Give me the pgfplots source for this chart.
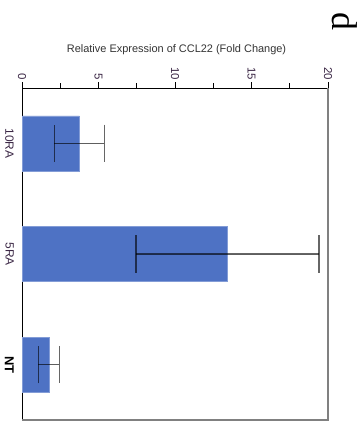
\documentclass[border=0pt]{standalone}
\usepackage{pgfplots}
\pgfplotsset{compat=1.18}
\usepackage{fontspec}
\setmainfont{Liberation Sans}
\newfontfamily\seriffont{Liberation Serif}
\definecolor{barblue}{RGB}{78,114,196}
\definecolor{ticktext}{RGB}{60,40,70}
\begin{document}
\begin{tikzpicture}[x=1bp,y=1bp]
\useasboundingbox (0,0) rectangle (360,424);
\begin{axis}[
  at={(22bp,4bp)}, anchor=south west,
  scale only axis, width=306bp, height=332bp,
  xmin=0, xmax=20, ymin=-0.5, ymax=2.5, y dir=reverse,
  xbar, bar width=55bp,
  /pgf/number format/assume math mode=true,
  xtick={0,5,10,15,20}, minor xtick={2.5,7.5,12.5,17.5},
  xtick pos=right, xticklabel pos=right,
  tick align=outside, major tick length=6bp, minor tick length=5bp,
  every tick/.style={black, line width=0.8bp},
  x tick label style={rotate=-90, anchor=east, font=\fontsize{11.5}{13}\selectfont, text=ticktext, inner sep=2bp},
  ytick={0,1,2}, yticklabels={10RA,5RA,{\color{black}\fontsize{13}{15}\selectfont\textbf{NT}}},
  ytick style={draw=none}, major y tick style={draw=none},
  y tick label style={rotate=-90, anchor=north, font=\fontsize{12}{14}\selectfont, text=ticktext},
  yticklabel style={inner sep=2bp},
  axis line style={black, line width=0.8bp},
  title={Relative Expression of CCL22 (Fold Change)},
  title style={font=\fontsize{11}{13}\selectfont, text=black!80, at={(0.505,1)}, yshift=24bp},
  clip=false,
]
\addplot[fill=barblue, draw=barblue!70, line width=0.4bp,
  error bars/.cd, x dir=both, x explicit, error mark=|,
  error bar style={black, opacity=0.6, line width=1.3bp},
  error mark options={black, opacity=0.6, line width=1.3bp, mark size=18.8bp}]
  coordinates {
    (3.75,0) +- (1.63,0)
    (13.43,1) +- (5.98,0)
    (1.76,2) +- (0.69,0)
  };
\draw[gray, line width=1.2bp] (axis cs:0,2.5) -- (axis cs:20,2.5) -- (axis cs:20,-0.5);
\end{axis}
\node[rotate=-90, font=\seriffont\fontsize{36}{38}\selectfont, anchor=center] at (345,403) {d};
\end{tikzpicture}
\end{document}
